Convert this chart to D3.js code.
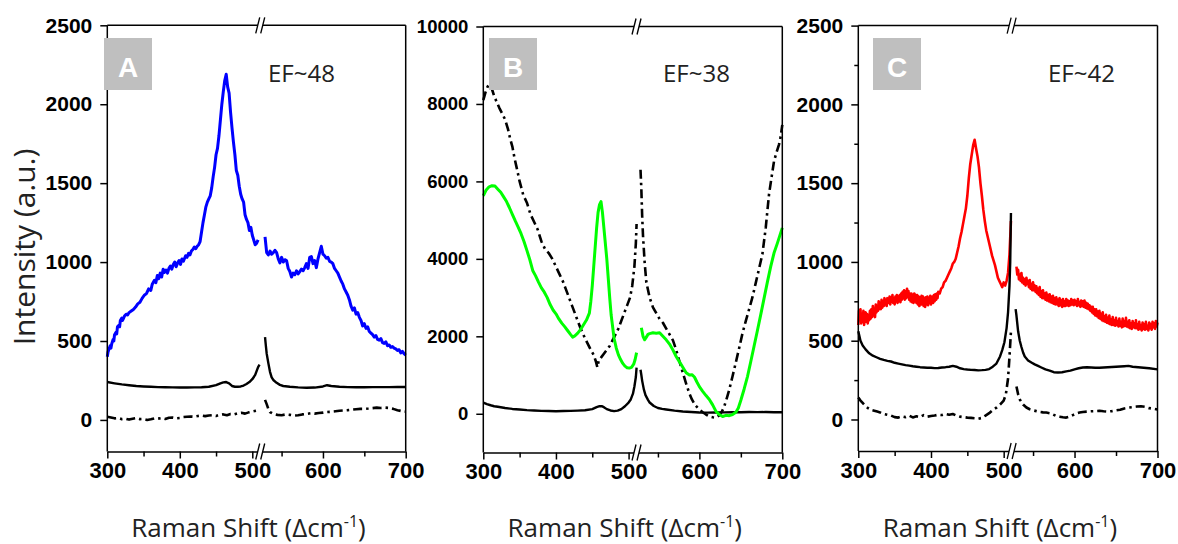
<!DOCTYPE html>
<html>
<head>
<meta charset="utf-8">
<script src="https://cdn.jsdelivr.net/npm/d3@7"></script>
<style>
  html, body { margin: 0; padding: 0; background: #fff; }
  svg { display: block; }
</style>
</head>
<body>
<svg id="chart" width="1178" height="544"></svg>
<script>
// ---- tick labels and annotations ----
const xTickValues = [300, 400, 500, 600, 700];
const xMinorValues = [350, 450, 550, 650];
const yTicksAC = [0, 500, 1000, 1500, 2000, 2500];
const yMinorC = [-250, 250, 750, 1250, 1750, 2250];
const yTicksB = [0, 2000, 4000, 6000, 8000, 10000];
const panelLetters = ["A", "B", "C"];
const efLabels = ["EF~48", "EF~38", "EF~42"];
const xTitle = "Raman Shift (\u0394cm";
const yTitle = "Intensity (a.u.)";

// ---- broken x axis: low band and high band of Raman shift ----
const lowBand = [300, 513];
const highBand = [526, 700];

// ---- Panel A spectra (left segment / right segment) ----
const aBlueL = [[300,400],[301,430],[302,445],[304,470],[305,455],[306,480],[308,510],[309,500],[310,540],[312,555],[313,545],[314,590],[316,600],[317,590],[318,630],[320,645],[321,630],[322,640],[324,660],[326,670],[328,665],[330,680],[333,690],[336,700],[339,715],[342,735],[345,745],[348,770],[351,790],[354,800],[357,830],[360,820],[362,860],[365,885],[367,870],[369,915],[371,895],[373,930],[375,905],[377,955],[379,935],[381,950],[383,930],[385,960],[387,975],[389,955],[391,985],[393,1000],[395,970],[397,995],[399,1010],[401,985],[403,1020],[405,1005],[408,1040],[410,1030],[412,1055],[414,1045],[416,1070],[418,1080],[420,1095],[422,1085],[424,1100],[426,1110],[428,1130],[430,1190],[432,1250],[434,1300],[436,1350],[438,1380],[440,1400],[442,1420],[444,1470],[446,1540],[448,1600],[450,1680],[452,1720],[454,1800],[456,1900],[458,2000],[460,2080],[462,2150],[464,2190],[466,2110],[468,2070],[470,1950],[472,1850],[474,1760],[476,1680],[478,1580],[480,1550],[482,1480],[484,1430],[486,1400],[488,1380],[490,1300],[492,1270],[494,1250],[496,1200],[498,1220],[500,1170],[502,1140],[504,1110],[506,1120],[508,1140]];
const aBlueR = [[530,1160],[532,1060],[534,1045],[536,1070],[538,1050],[540,1060],[542,1075],[544,1060],[546,1020],[548,995],[550,1030],[552,1000],[554,1015],[556,1010],[558,960],[560,940],[562,905],[564,930],[566,920],[568,945],[570,925],[572,940],[574,955],[576,945],[578,965],[580,990],[582,960],[584,1030],[586,1035],[588,990],[590,1010],[592,965],[594,1020],[596,1060],[598,1100],[600,1050],[602,1040],[604,1025],[606,1030],[608,1005],[610,1000],[612,990],[614,960],[616,945],[618,930],[620,905],[622,880],[624,860],[626,830],[628,810],[630,790],[632,760],[634,720],[636,695],[638,710],[640,670],[642,680],[644,650],[646,630],[648,595],[650,610],[652,580],[654,590],[656,560],[658,550],[660,540],[662,525],[664,535],[666,510],[668,505],[670,515],[672,490],[674,485],[676,495],[678,470],[680,475],[682,460],[684,465],[686,455],[688,450],[690,440],[692,445],[694,425],[696,435],[698,420],[700,410]];
const aSolidL = [[300,240],[310,232],[320,225],[330,220],[340,215],[350,212],[360,210],[370,208],[380,207],[390,206],[400,205],[410,205],[420,206],[430,207],[440,210],[450,220],[456,232],[460,238],[464,240],[468,232],[472,215],[476,210],[480,210],[484,212],[488,218],[492,228],[496,240],[500,258],[504,285],[508,335],[510,350]];
const aSolidR = [[530,525],[531,470],[532,420],[534,360],[536,305],[538,270],[540,253],[544,235],[548,222],[552,215],[560,210],[570,206],[580,204],[590,205],[600,212],[605,220],[610,215],[620,210],[630,208],[640,207],[650,207],[660,208],[670,208],[680,208],[690,209],[700,209]];
const aDashL = [[300,20],[305,15],[310,10],[315,12],[320,5],[325,8],[330,2],[335,8],[340,12],[345,5],[350,6],[355,0],[360,4],[365,10],[370,8],[375,12],[380,6],[385,14],[390,15],[395,10],[400,12],[405,18],[410,20],[415,22],[420,20],[425,25],[430,28],[435,24],[440,28],[445,30],[450,25],[455,32],[460,35],[465,30],[470,38],[475,35],[480,42],[485,45],[490,40],[495,48],[500,53],[505,58],[510,63]];
const aDashR = [[530,127],[532,100],[534,70],[536,50],[540,38],[545,32],[550,30],[555,35],[560,32],[565,28],[570,30],[575,35],[580,38],[585,42],[590,40],[595,44],[600,46],[605,50],[610,52],[615,55],[620,58],[625,60],[630,62],[635,65],[640,68],[645,70],[650,70],[655,72],[660,75],[665,78],[670,76],[675,78],[680,76],[685,70],[690,62],[695,56],[700,53]];

// ---- Panel B spectra ----
const bGreenL = [[300,5630],[304,5780],[308,5860],[312,5890],[316,5880],[320,5800],[324,5720],[328,5600],[332,5480],[336,5320],[340,5150],[344,4980],[348,4820],[352,4650],[356,4450],[360,4220],[364,3980],[368,3700],[372,3560],[376,3400],[380,3250],[384,3140],[388,3000],[392,2820],[396,2680],[400,2580],[404,2450],[408,2340],[412,2250],[416,2150],[420,2050],[423,1980],[426,2010],[430,2080],[434,2180],[438,2300],[442,2420],[446,2600],[448,2900],[450,3300],[452,3800],[454,4300],[456,4800],[458,5200],[460,5400],[462,5480],[464,5200],[466,4800],[468,4400],[470,4000],[472,3500],[474,3000],[476,2550],[478,2250],[480,1950],[483,1700],[486,1520],[489,1400],[492,1300],[495,1230],[498,1190],[501,1180],[504,1200],[507,1280],[509,1400],[511,1580]];
const bGreenR = [[530,2220],[532,2000],[534,1910],[536,1980],[538,2050],[540,2070],[544,2090],[548,2080],[552,2090],[556,2000],[560,1910],[564,1800],[568,1650],[572,1480],[576,1340],[580,1200],[584,1060],[588,1000],[591,1010],[594,950],[597,820],[600,700],[604,580],[608,470],[612,370],[616,230],[620,60],[624,-20],[628,-70],[632,-40],[636,-50],[640,-20],[644,40],[647,150],[650,350],[654,640],[658,960],[662,1350],[666,1750],[670,2150],[674,2560],[678,2980],[682,3400],[686,3800],[690,4150],[694,4400],[697,4600],[700,4800]];
const bSolidL = [[300,290],[305,250],[310,220],[315,195],[320,180],[330,150],[340,125],[350,110],[360,95],[370,85],[380,75],[390,70],[400,67],[410,70],[420,75],[430,82],[440,92],[450,120],[456,170],[460,195],[463,195],[466,170],[470,120],[475,85],[480,67],[485,80],[490,120],[495,195],[500,290],[503,370],[506,520],[508,703],[510,950],[511,1190]];
const bSolidR = [[529,1137],[530,1000],[531,850],[533,630],[535,480],[538,360],[540,290],[545,200],[550,150],[555,125],[560,110],[570,80],[580,60],[590,45],[600,33],[610,30],[620,33],[630,35],[640,38],[650,40],[660,45],[670,42],[680,45],[690,40],[700,40]];
const bDashL = [[300,8100],[303,8300],[306,8450],[309,8500],[312,8380],[315,8200],[318,8070],[322,7900],[326,7750],[330,7600],[334,7350],[337,7100],[340,6900],[343,6600],[346,6350],[350,6000],[355,5650],[360,5450],[365,5150],[370,4950],[375,4750],[380,4450],[385,4250],[390,4150],[395,4000],[400,3800],[405,3600],[410,3400],[414,3200],[418,3000],[422,2800],[428,2500],[434,2200],[440,1950],[444,1800],[448,1650],[452,1520],[455,1350],[457,1200],[459,1380],[462,1450],[466,1550],[470,1650],[474,1750],[478,1900],[482,2050],[486,2200],[490,2400],[494,2600],[498,2800],[502,3000],[505,3300],[508,3800],[510,4400],[511,4900]];
const bDashR = [[529,6300],[530,5800],[531,5100],[532,4600],[534,3900],[536,3400],[540,3000],[544,2750],[548,2600],[552,2450],[556,2350],[560,2200],[564,2050],[568,1900],[572,1650],[576,1350],[580,1060],[584,780],[588,520],[591,370],[595,220],[600,110],[604,40],[608,-20],[612,-70],[616,-90],[620,-100],[624,-40],[627,50],[630,190],[633,400],[636,620],[640,970],[644,1330],[648,1700],[652,2080],[656,2400],[660,2700],[664,3010],[668,3380],[672,3750],[676,4120],[680,4800],[684,5670],[687,6100],[690,6520],[693,6750],[696,6950],[698,7150],[700,7460]];

// ---- Panel C spectra ----
const cRedL = [[300,600],[301,690],[302,640],[303,700],[304,610],[305,660],[306,620],[307,690],[308,600],[309,650],[310,680],[311,620],[312,670],[313,610],[314,660],[315,630],[316,690],[317,640],[318,700],[319,650],[320,720],[321,660],[322,700],[323,650],[324,730],[325,680],[326,720],[327,690],[328,750],[329,700],[330,740],[331,700],[332,760],[333,710],[334,750],[335,720],[336,770],[337,730],[338,760],[339,720],[340,770],[342,740],[343,780],[344,730],[345,770],[346,750],[347,790],[348,740],[349,770],[350,730],[351,780],[352,750],[353,790],[354,740],[355,780],[356,750],[357,790],[358,745],[359,800],[360,760],[361,810],[362,770],[363,820],[364,760],[365,810],[366,770],[367,830],[368,780],[369,815],[370,760],[371,800],[372,750],[373,800],[374,745],[375,790],[376,740],[377,800],[378,750],[379,790],[380,740],[381,790],[382,730],[383,780],[384,720],[385,775],[386,730],[387,785],[388,730],[389,780],[390,720],[391,770],[392,715],[393,775],[394,730],[395,780],[396,725],[397,770],[398,740],[399,785],[400,730],[402,780],[403,740],[404,790],[405,750],[406,795],[407,760],[408,800],[409,770],[410,810],[412,800],[414,830],[416,840],[418,870],[420,880],[422,900],[424,920],[426,940],[428,960],[430,990],[432,1000],[434,1020],[436,1060],[438,1100],[440,1150],[442,1190],[444,1240],[446,1290],[448,1340],[450,1420],[452,1530],[454,1620],[456,1680],[458,1740],[460,1775],[462,1720],[464,1670],[466,1600],[468,1500],[470,1420],[472,1330],[474,1260],[476,1200],[478,1160],[480,1120],[482,1080],[484,1040],[486,1010],[488,980],[490,940],[492,900],[494,880],[496,860],[498,840],[500,870],[502,850],[504,880],[506,930],[508,1050],[510,1260]];
const cRedR = [[530,970],[531,920],[532,950],[533,890],[534,920],[535,880],[536,930],[537,870],[538,900],[539,860],[540,890],[541,850],[542,900],[543,860],[544,880],[545,840],[546,885],[547,830],[548,860],[549,820],[550,870],[551,820],[552,850],[553,810],[554,845],[555,800],[556,830],[557,790],[558,840],[559,780],[560,815],[561,770],[562,820],[563,770],[564,800],[565,760],[566,805],[567,755],[568,790],[569,750],[570,795],[571,745],[572,780],[573,740],[574,785],[575,735],[576,770],[577,730],[578,775],[579,730],[580,760],[581,720],[582,770],[583,725],[584,755],[585,715],[586,765],[587,720],[588,750],[589,720],[590,765],[591,725],[592,755],[593,720],[594,750],[595,725],[596,765],[597,730],[598,755],[599,725],[600,760],[601,730],[602,750],[603,720],[604,765],[605,725],[606,745],[607,715],[608,755],[609,720],[610,750],[611,715],[612,755],[613,710],[614,740],[615,705],[616,735],[617,700],[618,725],[619,690],[620,715],[621,680],[622,715],[623,670],[624,700],[625,660],[626,700],[627,655],[628,685],[629,645],[630,690],[631,640],[632,670],[633,630],[634,680],[635,625],[636,655],[637,620],[638,665],[639,615],[640,645],[641,610],[642,660],[643,605],[644,635],[645,600],[646,650],[647,600],[648,630],[649,595],[650,645],[651,600],[652,625],[653,590],[654,640],[655,595],[656,620],[657,585],[658,640],[659,590],[660,625],[661,595],[662,645],[663,590],[664,620],[665,585],[666,630],[667,580],[668,610],[669,575],[670,625],[671,585],[672,610],[673,580],[674,630],[675,580],[676,605],[677,570],[678,620],[679,575],[680,600],[681,565],[682,615],[683,575],[684,605],[685,570],[686,620],[687,575],[688,595],[689,565],[690,615],[691,580],[692,605],[693,570],[694,620],[695,585],[696,610],[697,575],[698,625],[699,590],[700,615]];
const cSolidL = [[300,560],[303,500],[306,470],[310,445],[315,420],[320,405],[325,395],[330,385],[335,378],[340,372],[345,368],[350,360],[355,355],[360,350],[365,345],[370,342],[375,338],[380,335],[385,332],[390,330],[395,328],[400,328],[405,326],[410,327],[415,330],[420,332],[425,335],[430,340],[435,335],[440,325],[445,320],[450,317],[455,315],[460,314],[465,312],[470,313],[475,315],[480,320],[485,335],[490,355],[495,400],[498,440],[501,490],[504,580],[506,680],[508,850],[509,1000],[510,1310]];
const cSolidR = [[529,700],[530,660],[532,560],[534,500],[536,460],[538,425],[540,400],[544,375],[548,362],[552,350],[556,340],[560,330],[565,318],[570,310],[575,300],[580,298],[585,300],[590,305],[595,310],[600,318],[605,325],[610,330],[615,332],[620,330],[625,328],[630,328],[640,332],[650,335],[660,338],[665,340],[670,335],[680,330],[690,325],[700,318]];
const cDashL = [[300,140],[303,120],[306,105],[310,85],[314,70],[318,60],[322,55],[326,50],[330,45],[335,35],[340,30],[345,25],[350,15],[355,12],[360,20],[365,15],[370,25],[375,13],[380,20],[385,15],[390,28],[395,18],[400,22],[405,25],[410,30],[415,28],[420,35],[425,30],[430,35],[435,25],[440,18],[445,15],[450,12],[455,10],[460,8],[465,5],[470,10],[475,25],[480,40],[485,60],[490,75],[495,95],[500,120],[503,160],[506,260],[508,400],[510,560]];
const cDashR = [[530,210],[532,160],[534,127],[538,95],[542,76],[546,65],[550,58],[554,53],[558,48],[562,45],[566,44],[570,40],[574,32],[578,22],[582,18],[586,14],[590,12],[594,18],[598,28],[602,38],[606,44],[610,48],[615,50],[620,52],[625,53],[630,55],[635,52],[640,50],[645,53],[650,58],[655,62],[660,70],[665,75],[670,78],[675,82],[680,84],[685,80],[690,72],[695,68],[700,63]];

// ---- styling ----
const BLUE = "#0000ff", GREEN = "#00ff00", RED = "#ff0000", INK = "#000000";
const DASHDOT = "9,4,2.5,4";
const tickFont = "'Liberation Sans', Arial, sans-serif";
const textFont = "'Open Sans', 'Noto Sans', sans-serif";

// ---- panel layout ----
const panels = [
  { x0: 107.3, x1: 405.7, top: 25.3, bottom: 451.5, yDomain: [-200, 2500], yTicks: yTicksAC, yMinor: null, yFont: 21,
    box: [104, 38], efX: 268,
    series: [
      { l: aBlueL, r: aBlueR, color: BLUE, w: 3, dash: null },
      { l: aSolidL, r: aSolidR, color: INK, w: 2.4, dash: null },
      { l: aDashL, r: aDashR, color: INK, w: 2.6, dash: DASHDOT } ] },
  { x0: 483.3, x1: 782.3, top: 26.5, bottom: 452.5, yDomain: [-1000, 10000], yTicks: yTicksB, yMinor: null, yFont: 18.5,
    box: [489, 38], efX: 663,
    series: [
      { l: bSolidL, r: bSolidR, color: INK, w: 2.4, dash: null },
      { l: bDashL, r: bDashR, color: INK, w: 2.6, dash: DASHDOT },
      { l: bGreenL, r: bGreenR, color: GREEN, w: 3, dash: null } ] },
  { x0: 858.3, x1: 1157.5, top: 25.6, bottom: 451, yDomain: [-200, 2500], yTicks: yTicksAC, yMinor: yMinorC, yFont: 21,
    box: [873, 38], efX: 1048,
    series: [
      { l: cRedL, r: cRedR, color: RED, w: 2.6, dash: null },
      { l: cSolidL, r: cSolidR, color: INK, w: 2.4, dash: null },
      { l: cDashL, r: cDashR, color: INK, w: 2.6, dash: DASHDOT } ] }
];

const svg = d3.select("#chart");
const BREAK_FRAC = 0.5175;
const fmt = d3.format("d");

panels.forEach((p, i) => {
  const g = svg.append("g");
  const xb = p.x0 + (p.x1 - p.x0) * BREAK_FRAC;
  const xL = d3.scaleLinear().domain(lowBand).range([p.x0, xb]);
  const xR = d3.scaleLinear().domain(highBand).range([xb, p.x1]);
  const y = d3.scaleLinear().domain(p.yDomain).range([p.bottom, p.top]);

  // spectra
  p.series.forEach(s => {
    [[s.l, xL], [s.r, xR]].forEach(([pts, xs]) => {
      const line = d3.line().x(d => xs(d[0])).y(d => y(d[1]));
      g.append("path")
        .attr("d", line(pts))
        .attr("fill", "none")
        .attr("stroke", s.color)
        .attr("stroke-width", s.w)
        .attr("stroke-linejoin", "round")
        .attr("stroke-dasharray", s.dash);
    });
  });

  // frame: left, right, top
  const frame = g.append("g").attr("stroke", "#000").attr("stroke-width", 1.5).attr("fill", "none");
  frame.append("line").attr("x1", p.x0).attr("x2", p.x0).attr("y1", p.top).attr("y2", p.bottom);
  frame.append("line").attr("x1", p.x1).attr("x2", p.x1).attr("y1", p.top).attr("y2", p.bottom);
  frame.append("line").attr("x1", p.x0).attr("x2", p.x1).attr("y1", p.top).attr("y2", p.top);

  // bottom axis, two bands
  const lowTicks = xTickValues.filter(v => v <= lowBand[1]);
  const highTicks = xTickValues.filter(v => v >= highBand[0]);
  [[xL, lowTicks, xMinorValues.filter(v => v <= lowBand[1])],
   [xR, highTicks, xMinorValues.filter(v => v >= highBand[0])]].forEach(([xs, major, minor]) => {
    const ax = g.append("g").attr("transform", `translate(0,${p.bottom})`)
      .call(d3.axisBottom(xs).tickValues(major).tickFormat(fmt).tickSizeInner(7).tickSizeOuter(0).tickPadding(4));
    ax.select(".domain").attr("stroke-width", 1.5);
    ax.selectAll(".tick line").attr("stroke-width", 1.5);
    ax.selectAll(".tick text")
      .attr("font-family", tickFont).attr("font-weight", "bold").attr("font-size", 22)
      .attr("fill", "#000").attr("dy", "0.71em");
    const mx = g.append("g").attr("transform", `translate(0,${p.bottom})`)
      .call(d3.axisBottom(xs).tickValues(minor).tickSizeInner(5).tickSizeOuter(0).tickFormat(""));
    mx.select(".domain").remove();
    mx.selectAll(".tick line").attr("stroke-width", 1.5);
  });

  // left axis
  const ay = g.append("g").attr("transform", `translate(${p.x0},0)`)
    .call(d3.axisLeft(y).tickValues(p.yTicks).tickFormat(fmt).tickSizeInner(7).tickSizeOuter(0).tickPadding(8));
  ay.select(".domain").remove();
  ay.selectAll(".tick line").attr("stroke-width", 1.5);
  ay.selectAll(".tick text")
    .attr("font-family", tickFont).attr("font-weight", "bold").attr("font-size", p.yFont).attr("fill", "#000");
  if (p.yMinor) {
    const my = g.append("g").attr("transform", `translate(${p.x0},0)`)
      .call(d3.axisLeft(y).tickValues(p.yMinor.filter(v => v > p.yDomain[0])).tickSizeInner(4).tickSizeOuter(0).tickFormat(""));
    my.select(".domain").remove();
    my.selectAll(".tick line").attr("stroke-width", 1.5);
  }

  // axis-break marks on the top and bottom edges
  [p.top, p.bottom].forEach(yy => {
    const bk = g.append("g").attr("transform", `translate(${xb},${yy})`);
    bk.append("polygon").attr("points", "-6,8 -2,-8 3,-8 -1,8").attr("fill", "#fff");
    bk.append("line").attr("x1", -6).attr("y1", 8).attr("x2", -2).attr("y2", -8).attr("stroke", "#000").attr("stroke-width", 1.3);
    bk.append("line").attr("x1", -1).attr("y1", 8).attr("x2", 3).attr("y2", -8).attr("stroke", "#000").attr("stroke-width", 1.3);
  });

  // panel letter tag
  g.append("rect").attr("x", p.box[0]).attr("y", p.box[1]).attr("width", 48).attr("height", 52).attr("fill", "#bfbfbf");
  g.append("text").attr("x", p.box[0] + 24).attr("y", p.box[1] + 38.5)
    .attr("text-anchor", "middle").attr("font-family", tickFont).attr("font-weight", "bold")
    .attr("font-size", 28).attr("fill", "#fff").text(panelLetters[i]);

  // enhancement factor
  g.append("text").attr("x", p.efX).attr("y", 82)
    .attr("font-family", textFont).attr("font-size", 24).attr("fill", "#222").text(efLabels[i]);

  // x title
  const xt = g.append("text").attr("x", (p.x0 + p.x1) / 2 - 8).attr("y", 537)
    .attr("text-anchor", "middle").attr("font-family", textFont).attr("font-size", 26).attr("fill", "#222");
  xt.append("tspan").text(xTitle);
  xt.append("tspan").attr("dy", -10).attr("font-size", 16).text("-1");
  xt.append("tspan").attr("dy", 10).text(")");
});

// y title
svg.append("text")
  .attr("transform", "translate(35,247) rotate(-90)")
  .attr("text-anchor", "middle").attr("font-family", textFont).attr("font-size", 30).attr("fill", "#222")
  .text(yTitle);
</script>
</body>
</html>
